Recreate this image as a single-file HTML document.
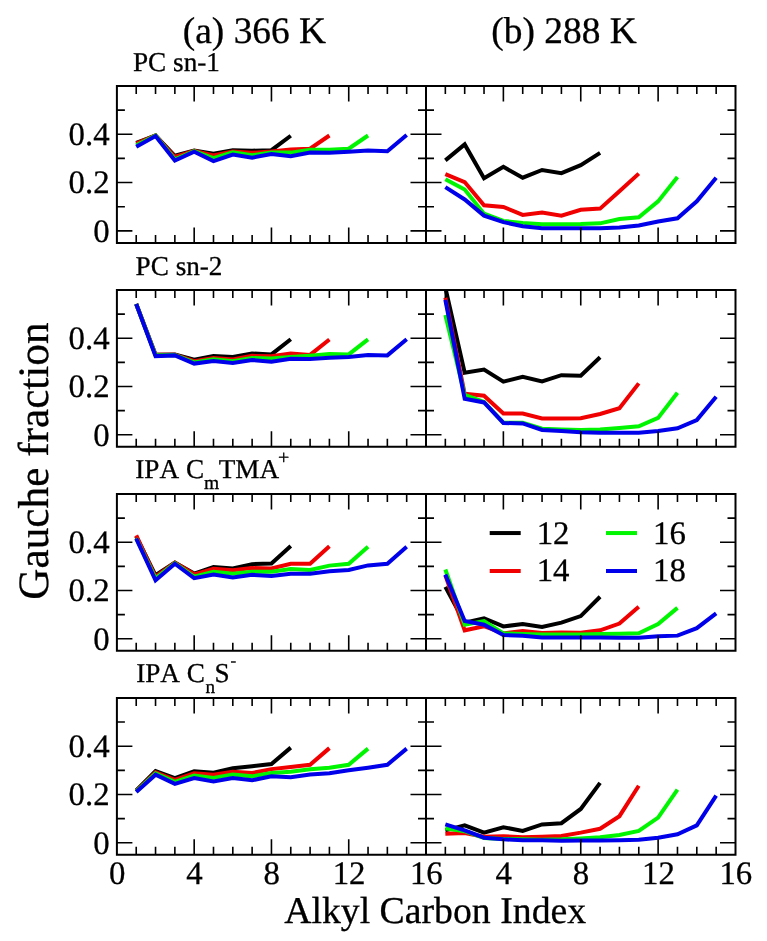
<!DOCTYPE html><html><head><meta charset="utf-8"><title>Gauche fraction</title><style>html,body{margin:0;padding:0;background:#fff;width:767px;height:941px;overflow:hidden}svg{display:block;will-change:transform}text{font-family:"Liberation Serif",serif;fill:#000;stroke:#000;stroke-width:0.3px;text-rendering:geometricPrecision;font-kerning:none;font-feature-settings:"kern" 0}</style></head><body><svg width="767" height="941" viewBox="0 0 767 941"><rect width="767" height="941" fill="#fff"/><defs><clipPath id="k00"><rect x="116.9" y="86" width="309.1" height="156.9"/></clipPath><clipPath id="k01"><rect x="426" y="86" width="309.5" height="156.9"/></clipPath><clipPath id="k10"><rect x="116.9" y="289.97" width="309.1" height="156.9"/></clipPath><clipPath id="k11"><rect x="426" y="289.97" width="309.5" height="156.9"/></clipPath><clipPath id="k20"><rect x="116.9" y="493.94" width="309.1" height="156.9"/></clipPath><clipPath id="k21"><rect x="426" y="493.94" width="309.5" height="156.9"/></clipPath><clipPath id="k30"><rect x="116.9" y="697.91" width="309.1" height="156.9"/></clipPath><clipPath id="k31"><rect x="426" y="697.91" width="309.5" height="156.9"/></clipPath></defs><g clip-path="url(#k00)"><polyline points="136.22,142.97 155.54,135.48 174.86,155.76 194.18,150.45 213.49,153.83 232.81,150.21 252.13,150.69 271.45,150.21 290.77,135.73" fill="none" stroke="#000000" stroke-width="4.0" stroke-linejoin="miter" stroke-linecap="butt"/><polyline points="136.22,143.69 155.54,135.48 174.86,156.97 194.18,150.93 213.49,155.52 232.81,151.42 252.13,152.86 271.45,151.42 290.77,149.48 310.09,148.76 329.41,135.48" fill="none" stroke="#f00000" stroke-width="4.0" stroke-linejoin="miter" stroke-linecap="butt"/><polyline points="136.22,145.38 155.54,135.48 174.86,159.38 194.18,151.17 213.49,158.17 232.81,152.38 252.13,155.28 271.45,152.38 290.77,152.62 310.09,149.73 329.41,149.73 348.73,148.76 368.04,135.48" fill="none" stroke="#00f500" stroke-width="4.0" stroke-linejoin="miter" stroke-linecap="butt"/><polyline points="136.22,146.83 155.54,135.97 174.86,160.59 194.18,151.66 213.49,161.07 232.81,154.55 252.13,157.69 271.45,154.07 290.77,156.24 310.09,152.62 329.41,152.86 348.73,151.66 368.04,150.45 387.36,151.17 406.68,135" fill="none" stroke="#0000eb" stroke-width="4.0" stroke-linejoin="miter" stroke-linecap="butt"/></g><g clip-path="url(#k01)"><polyline points="445.34,160.35 464.69,144.42 484.03,178.21 503.38,166.86 522.72,177.73 542.06,170 561.41,173.14 580.75,165.17 600.09,152.86" fill="none" stroke="#000000" stroke-width="4.0" stroke-linejoin="miter" stroke-linecap="butt"/><polyline points="445.34,174.11 464.69,182.07 484.03,205.24 503.38,206.93 522.72,214.9 542.06,212.49 561.41,215.62 580.75,209.83 600.09,208.62 619.44,191.24 638.78,173.62" fill="none" stroke="#f00000" stroke-width="4.0" stroke-linejoin="miter" stroke-linecap="butt"/><polyline points="445.34,179.17 464.69,189.55 484.03,213.69 503.38,220.93 522.72,222.87 542.06,224.31 561.41,224.31 580.75,224.07 600.09,223.35 619.44,219 638.78,217.31 658.12,201.38 677.47,177" fill="none" stroke="#00f500" stroke-width="4.0" stroke-linejoin="miter" stroke-linecap="butt"/><polyline points="445.34,187.14 464.69,199.45 484.03,215.62 503.38,222.14 522.72,226.24 542.06,228.18 561.41,228.18 580.75,228.18 600.09,228.18 619.44,227.45 638.78,225.52 658.12,221.42 677.47,218.28 696.81,201.38 716.16,177.73" fill="none" stroke="#0000eb" stroke-width="4.0" stroke-linejoin="miter" stroke-linecap="butt"/></g><g clip-path="url(#k10)"><polyline points="136.22,303.97 155.54,354.66 174.86,354.42 194.18,359.73 213.49,356.11 232.81,357.07 252.13,353.45 271.45,354.42 290.77,339.21" fill="none" stroke="#000000" stroke-width="4.0" stroke-linejoin="miter" stroke-linecap="butt"/><polyline points="136.22,303.97 155.54,354.66 174.86,354.66 194.18,361.18 213.49,358.04 232.81,359.49 252.13,355.87 271.45,356.35 290.77,353.45 310.09,354.9 329.41,339.45" fill="none" stroke="#f00000" stroke-width="4.0" stroke-linejoin="miter" stroke-linecap="butt"/><polyline points="136.22,303.97 155.54,355.14 174.86,354.9 194.18,362.39 213.49,359.25 232.81,361.18 252.13,358.04 271.45,358.52 290.77,357.07 310.09,355.63 329.41,353.94 348.73,354.42 368.04,339.45" fill="none" stroke="#00f500" stroke-width="4.0" stroke-linejoin="miter" stroke-linecap="butt"/><polyline points="136.22,303.97 155.54,356.11 174.86,355.39 194.18,363.59 213.49,360.94 232.81,362.87 252.13,359.97 271.45,361.66 290.77,358.76 310.09,359.01 329.41,357.8 348.73,357.07 368.04,354.9 387.36,355.39 406.68,339.21" fill="none" stroke="#0000eb" stroke-width="4.0" stroke-linejoin="miter" stroke-linecap="butt"/></g><g clip-path="url(#k11)"><polyline points="445.34,287.56 464.69,372.76 484.03,369.63 503.38,381.7 522.72,376.87 542.06,381.45 561.41,375.18 580.75,375.66 600.09,357.32" fill="none" stroke="#000000" stroke-width="4.0" stroke-linejoin="miter" stroke-linecap="butt"/><polyline points="445.34,297.69 464.69,393.77 484.03,395.7 503.38,413.56 522.72,413.56 542.06,418.39 561.41,418.39 580.75,418.15 600.09,414.04 619.44,408.25 638.78,383.39" fill="none" stroke="#f00000" stroke-width="4.0" stroke-linejoin="miter" stroke-linecap="butt"/><polyline points="445.34,315.07 464.69,394.97 484.03,401.97 503.38,422.73 522.72,422.73 542.06,428.77 561.41,429.49 580.75,429.97 600.09,429.49 619.44,428.04 638.78,426.35 658.12,417.9 677.47,392.8" fill="none" stroke="#00f500" stroke-width="4.0" stroke-linejoin="miter" stroke-linecap="butt"/><polyline points="445.34,299.87 464.69,398.83 484.03,402.46 503.38,422.97 522.72,423.46 542.06,429.97 561.41,430.94 580.75,432.15 600.09,432.87 619.44,432.63 638.78,432.63 658.12,430.94 677.47,428.28 696.81,420.08 716.16,396.66" fill="none" stroke="#0000eb" stroke-width="4.0" stroke-linejoin="miter" stroke-linecap="butt"/></g><g clip-path="url(#k20)"><polyline points="136.22,536.42 155.54,575.29 174.86,562.49 194.18,573.6 213.49,567.08 232.81,568.53 252.13,564.18 271.45,563.46 290.77,546.08" fill="none" stroke="#000000" stroke-width="4.0" stroke-linejoin="miter" stroke-linecap="butt"/><polyline points="136.22,535.46 155.54,576.73 174.86,562.73 194.18,574.32 213.49,568.77 232.81,570.22 252.13,568.05 271.45,568.53 290.77,563.7 310.09,563.7 329.41,546.32" fill="none" stroke="#f00000" stroke-width="4.0" stroke-linejoin="miter" stroke-linecap="butt"/><polyline points="136.22,538.35 155.54,578.42 174.86,563.22 194.18,576.73 213.49,571.67 232.81,573.84 252.13,571.67 271.45,571.67 290.77,569.01 310.09,569.98 329.41,565.63 348.73,563.7 368.04,546.8" fill="none" stroke="#00f500" stroke-width="4.0" stroke-linejoin="miter" stroke-linecap="butt"/><polyline points="136.22,538.6 155.54,580.36 174.86,563.7 194.18,578.18 213.49,574.56 232.81,577.46 252.13,574.8 271.45,576.01 290.77,573.84 310.09,573.84 329.41,571.18 348.73,569.98 368.04,565.39 387.36,563.7 406.68,546.8" fill="none" stroke="#0000eb" stroke-width="4.0" stroke-linejoin="miter" stroke-linecap="butt"/></g><g clip-path="url(#k21)"><polyline points="445.34,586.87 464.69,622.6 484.03,618.25 503.38,626.46 522.72,624.05 542.06,626.94 561.41,622.6 580.75,616.08 600.09,596.77" fill="none" stroke="#000000" stroke-width="4.0" stroke-linejoin="miter" stroke-linecap="butt"/><polyline points="445.34,575.29 464.69,630.32 484.03,626.22 503.38,633.46 522.72,631.05 542.06,632.98 561.41,632.49 580.75,632.74 600.09,630.32 619.44,623.56 638.78,606.67" fill="none" stroke="#f00000" stroke-width="4.0" stroke-linejoin="miter" stroke-linecap="butt"/><polyline points="445.34,569.49 464.69,624.77 484.03,621.15 503.38,633.46 522.72,633.94 542.06,634.43 561.41,634.43 580.75,634.43 600.09,633.94 619.44,633.7 638.78,633.22 658.12,624.05 677.47,607.87" fill="none" stroke="#00f500" stroke-width="4.0" stroke-linejoin="miter" stroke-linecap="butt"/><polyline points="445.34,574.56 464.69,620.91 484.03,624.77 503.38,634.91 522.72,635.87 542.06,637.56 561.41,637.56 580.75,637.56 600.09,637.56 619.44,637.81 638.78,637.81 658.12,636.36 677.47,635.63 696.81,628.15 716.16,613.43" fill="none" stroke="#0000eb" stroke-width="4.0" stroke-linejoin="miter" stroke-linecap="butt"/></g><g clip-path="url(#k30)"><polyline points="136.22,790.36 155.54,771.05 174.86,778.05 194.18,771.29 213.49,772.74 232.81,768.15 252.13,766.22 271.45,764.05 290.77,747.64" fill="none" stroke="#000000" stroke-width="4.0" stroke-linejoin="miter" stroke-linecap="butt"/><polyline points="136.22,791.08 155.54,772.26 174.86,779.98 194.18,773.22 213.49,774.67 232.81,771.77 252.13,772.98 271.45,769.12 290.77,766.95 310.09,764.77 329.41,748.12" fill="none" stroke="#f00000" stroke-width="4.0" stroke-linejoin="miter" stroke-linecap="butt"/><polyline points="136.22,791.57 155.54,773.46 174.86,781.91 194.18,775.64 213.49,778.05 232.81,774.43 252.13,776.36 271.45,772.98 290.77,771.77 310.09,769.36 329.41,767.67 348.73,764.77 368.04,748.6" fill="none" stroke="#00f500" stroke-width="4.0" stroke-linejoin="miter" stroke-linecap="butt"/><polyline points="136.22,792.05 155.54,774.67 174.86,783.84 194.18,778.05 213.49,781.43 232.81,778.05 252.13,780.22 271.45,776.36 290.77,777.33 310.09,774.43 329.41,773.22 348.73,770.33 368.04,767.67 387.36,764.77 406.68,748.6" fill="none" stroke="#0000eb" stroke-width="4.0" stroke-linejoin="miter" stroke-linecap="butt"/></g><g clip-path="url(#k31)"><polyline points="445.34,830.43 464.69,825.36 484.03,832.6 503.38,827.29 522.72,830.91 542.06,824.4 561.41,823.19 580.75,808.95 600.09,782.88" fill="none" stroke="#000000" stroke-width="4.0" stroke-linejoin="miter" stroke-linecap="butt"/><polyline points="445.34,833.81 464.69,833.09 484.03,836.71 503.38,836.22 522.72,837.19 542.06,836.71 561.41,835.98 580.75,832.6 600.09,828.74 619.44,816.19 638.78,785.77" fill="none" stroke="#f00000" stroke-width="4.0" stroke-linejoin="miter" stroke-linecap="butt"/><polyline points="445.34,828.26 464.69,831.15 484.03,837.91 503.38,838.88 522.72,839.36 542.06,839.84 561.41,839.36 580.75,838.4 600.09,837.19 619.44,835.02 638.78,830.91 658.12,817.64 677.47,789.64" fill="none" stroke="#00f500" stroke-width="4.0" stroke-linejoin="miter" stroke-linecap="butt"/><polyline points="445.34,824.4 464.69,830.43 484.03,837.67 503.38,839.36 522.72,840.33 542.06,840.33 561.41,840.81 580.75,840.57 600.09,840.57 619.44,840.33 638.78,839.84 658.12,837.67 677.47,834.29 696.81,825.36 716.16,795.67" fill="none" stroke="#0000eb" stroke-width="4.0" stroke-linejoin="miter" stroke-linecap="butt"/></g><path d="M136.22 242.9v-8M136.22 86v8M155.54 242.9v-8M155.54 86v8M174.86 242.9v-8M174.86 86v8M194.18 242.9v-15.5M194.18 86v15.5M213.49 242.9v-8M213.49 86v8M232.81 242.9v-8M232.81 86v8M252.13 242.9v-8M252.13 86v8M271.45 242.9v-15.5M271.45 86v15.5M290.77 242.9v-8M290.77 86v8M310.09 242.9v-8M310.09 86v8M329.41 242.9v-8M329.41 86v8M348.73 242.9v-15.5M348.73 86v15.5M368.04 242.9v-8M368.04 86v8M387.36 242.9v-8M387.36 86v8M406.68 242.9v-8M406.68 86v8M116.9 230.83h15.5M426 230.83h-15.5M116.9 206.69h8M426 206.69h-8M116.9 182.55h15.5M426 182.55h-15.5M116.9 158.42h8M426 158.42h-8M116.9 134.28h15.5M426 134.28h-15.5M116.9 110.14h8M426 110.14h-8M116.9 86h15.5M426 86h-15.5M445.34 242.9v-8M445.34 86v8M464.69 242.9v-8M464.69 86v8M484.03 242.9v-8M484.03 86v8M503.38 242.9v-15.5M503.38 86v15.5M522.72 242.9v-8M522.72 86v8M542.06 242.9v-8M542.06 86v8M561.41 242.9v-8M561.41 86v8M580.75 242.9v-15.5M580.75 86v15.5M600.09 242.9v-8M600.09 86v8M619.44 242.9v-8M619.44 86v8M638.78 242.9v-8M638.78 86v8M658.12 242.9v-15.5M658.12 86v15.5M677.47 242.9v-8M677.47 86v8M696.81 242.9v-8M696.81 86v8M716.16 242.9v-8M716.16 86v8M426 230.83h15.5M735.5 230.83h-15.5M426 206.69h8M735.5 206.69h-8M426 182.55h15.5M735.5 182.55h-15.5M426 158.42h8M735.5 158.42h-8M426 134.28h15.5M735.5 134.28h-15.5M426 110.14h8M735.5 110.14h-8M426 86h15.5M735.5 86h-15.5M136.22 446.87v-8M136.22 289.97v8M155.54 446.87v-8M155.54 289.97v8M174.86 446.87v-8M174.86 289.97v8M194.18 446.87v-15.5M194.18 289.97v15.5M213.49 446.87v-8M213.49 289.97v8M232.81 446.87v-8M232.81 289.97v8M252.13 446.87v-8M252.13 289.97v8M271.45 446.87v-15.5M271.45 289.97v15.5M290.77 446.87v-8M290.77 289.97v8M310.09 446.87v-8M310.09 289.97v8M329.41 446.87v-8M329.41 289.97v8M348.73 446.87v-15.5M348.73 289.97v15.5M368.04 446.87v-8M368.04 289.97v8M387.36 446.87v-8M387.36 289.97v8M406.68 446.87v-8M406.68 289.97v8M116.9 434.8h15.5M426 434.8h-15.5M116.9 410.66h8M426 410.66h-8M116.9 386.52h15.5M426 386.52h-15.5M116.9 362.39h8M426 362.39h-8M116.9 338.25h15.5M426 338.25h-15.5M116.9 314.11h8M426 314.11h-8M116.9 289.97h15.5M426 289.97h-15.5M445.34 446.87v-8M445.34 289.97v8M464.69 446.87v-8M464.69 289.97v8M484.03 446.87v-8M484.03 289.97v8M503.38 446.87v-15.5M503.38 289.97v15.5M522.72 446.87v-8M522.72 289.97v8M542.06 446.87v-8M542.06 289.97v8M561.41 446.87v-8M561.41 289.97v8M580.75 446.87v-15.5M580.75 289.97v15.5M600.09 446.87v-8M600.09 289.97v8M619.44 446.87v-8M619.44 289.97v8M638.78 446.87v-8M638.78 289.97v8M658.12 446.87v-15.5M658.12 289.97v15.5M677.47 446.87v-8M677.47 289.97v8M696.81 446.87v-8M696.81 289.97v8M716.16 446.87v-8M716.16 289.97v8M426 434.8h15.5M735.5 434.8h-15.5M426 410.66h8M735.5 410.66h-8M426 386.52h15.5M735.5 386.52h-15.5M426 362.39h8M735.5 362.39h-8M426 338.25h15.5M735.5 338.25h-15.5M426 314.11h8M735.5 314.11h-8M426 289.97h15.5M735.5 289.97h-15.5M136.22 650.84v-8M136.22 493.94v8M155.54 650.84v-8M155.54 493.94v8M174.86 650.84v-8M174.86 493.94v8M194.18 650.84v-15.5M194.18 493.94v15.5M213.49 650.84v-8M213.49 493.94v8M232.81 650.84v-8M232.81 493.94v8M252.13 650.84v-8M252.13 493.94v8M271.45 650.84v-15.5M271.45 493.94v15.5M290.77 650.84v-8M290.77 493.94v8M310.09 650.84v-8M310.09 493.94v8M329.41 650.84v-8M329.41 493.94v8M348.73 650.84v-15.5M348.73 493.94v15.5M368.04 650.84v-8M368.04 493.94v8M387.36 650.84v-8M387.36 493.94v8M406.68 650.84v-8M406.68 493.94v8M116.9 638.77h15.5M426 638.77h-15.5M116.9 614.63h8M426 614.63h-8M116.9 590.49h15.5M426 590.49h-15.5M116.9 566.36h8M426 566.36h-8M116.9 542.22h15.5M426 542.22h-15.5M116.9 518.08h8M426 518.08h-8M116.9 493.94h15.5M426 493.94h-15.5M445.34 650.84v-8M445.34 493.94v8M464.69 650.84v-8M464.69 493.94v8M484.03 650.84v-8M484.03 493.94v8M503.38 650.84v-15.5M503.38 493.94v15.5M522.72 650.84v-8M522.72 493.94v8M542.06 650.84v-8M542.06 493.94v8M561.41 650.84v-8M561.41 493.94v8M580.75 650.84v-15.5M580.75 493.94v15.5M600.09 650.84v-8M600.09 493.94v8M619.44 650.84v-8M619.44 493.94v8M638.78 650.84v-8M638.78 493.94v8M658.12 650.84v-15.5M658.12 493.94v15.5M677.47 650.84v-8M677.47 493.94v8M696.81 650.84v-8M696.81 493.94v8M716.16 650.84v-8M716.16 493.94v8M426 638.77h15.5M735.5 638.77h-15.5M426 614.63h8M735.5 614.63h-8M426 590.49h15.5M735.5 590.49h-15.5M426 566.36h8M735.5 566.36h-8M426 542.22h15.5M735.5 542.22h-15.5M426 518.08h8M735.5 518.08h-8M426 493.94h15.5M735.5 493.94h-15.5M136.22 854.81v-8M136.22 697.91v8M155.54 854.81v-8M155.54 697.91v8M174.86 854.81v-8M174.86 697.91v8M194.18 854.81v-15.5M194.18 697.91v15.5M213.49 854.81v-8M213.49 697.91v8M232.81 854.81v-8M232.81 697.91v8M252.13 854.81v-8M252.13 697.91v8M271.45 854.81v-15.5M271.45 697.91v15.5M290.77 854.81v-8M290.77 697.91v8M310.09 854.81v-8M310.09 697.91v8M329.41 854.81v-8M329.41 697.91v8M348.73 854.81v-15.5M348.73 697.91v15.5M368.04 854.81v-8M368.04 697.91v8M387.36 854.81v-8M387.36 697.91v8M406.68 854.81v-8M406.68 697.91v8M116.9 842.74h15.5M426 842.74h-15.5M116.9 818.6h8M426 818.6h-8M116.9 794.46h15.5M426 794.46h-15.5M116.9 770.33h8M426 770.33h-8M116.9 746.19h15.5M426 746.19h-15.5M116.9 722.05h8M426 722.05h-8M116.9 697.91h15.5M426 697.91h-15.5M445.34 854.81v-8M445.34 697.91v8M464.69 854.81v-8M464.69 697.91v8M484.03 854.81v-8M484.03 697.91v8M503.38 854.81v-15.5M503.38 697.91v15.5M522.72 854.81v-8M522.72 697.91v8M542.06 854.81v-8M542.06 697.91v8M561.41 854.81v-8M561.41 697.91v8M580.75 854.81v-15.5M580.75 697.91v15.5M600.09 854.81v-8M600.09 697.91v8M619.44 854.81v-8M619.44 697.91v8M638.78 854.81v-8M638.78 697.91v8M658.12 854.81v-15.5M658.12 697.91v15.5M677.47 854.81v-8M677.47 697.91v8M696.81 854.81v-8M696.81 697.91v8M716.16 854.81v-8M716.16 697.91v8M426 842.74h15.5M735.5 842.74h-15.5M426 818.6h8M735.5 818.6h-8M426 794.46h15.5M735.5 794.46h-15.5M426 770.33h8M735.5 770.33h-8M426 746.19h15.5M735.5 746.19h-15.5M426 722.05h8M735.5 722.05h-8M426 697.91h15.5M735.5 697.91h-15.5" stroke="#000" stroke-width="1.6" fill="none"/><path d="M116.9 86H735.5V242.9H116.9ZM426 86V242.9M116.9 289.97H735.5V446.87H116.9ZM426 289.97V446.87M116.9 493.94H735.5V650.84H116.9ZM426 493.94V650.84M116.9 697.91H735.5V854.81H116.9ZM426 697.91V854.81" stroke="#000" stroke-width="2.0" fill="none" stroke-linejoin="miter"/><text x="109.6" y="241.63" font-size="32.8" text-anchor="end">0</text><text x="109.6" y="193.35" font-size="32.8" text-anchor="end">0.2</text><text x="109.6" y="145.08" font-size="32.8" text-anchor="end">0.4</text><text x="109.6" y="445.6" font-size="32.8" text-anchor="end">0</text><text x="109.6" y="397.32" font-size="32.8" text-anchor="end">0.2</text><text x="109.6" y="349.05" font-size="32.8" text-anchor="end">0.4</text><text x="109.6" y="649.57" font-size="32.8" text-anchor="end">0</text><text x="109.6" y="601.29" font-size="32.8" text-anchor="end">0.2</text><text x="109.6" y="553.02" font-size="32.8" text-anchor="end">0.4</text><text x="109.6" y="853.54" font-size="32.8" text-anchor="end">0</text><text x="109.6" y="805.26" font-size="32.8" text-anchor="end">0.2</text><text x="109.6" y="756.99" font-size="32.8" text-anchor="end">0.4</text><text x="117.2" y="884" font-size="32.8" text-anchor="middle">0</text><text x="194.48" y="884" font-size="32.8" text-anchor="middle">4</text><text x="271.75" y="884" font-size="32.8" text-anchor="middle">8</text><text x="349.03" y="884" font-size="32.8" text-anchor="middle">12</text><text x="426.3" y="884" font-size="32.8" text-anchor="middle">16</text><text x="503.68" y="884" font-size="32.8" text-anchor="middle">4</text><text x="581.05" y="884" font-size="32.8" text-anchor="middle">8</text><text x="658.42" y="884" font-size="32.8" text-anchor="middle">12</text><text x="735.8" y="884" font-size="32.8" text-anchor="middle">16</text><text x="182.8" y="42.5" font-size="37.4">(a) 366 K</text><text x="491.3" y="42.5" font-size="37.4">(b) 288 K</text><text x="133" y="70.5" font-size="27.2">PC sn-1</text><text x="135.6" y="274.5" font-size="27.2">PC sn-2</text><text x="135.3" y="478.4" font-size="27.2">IPA C</text><text x="203.9" y="489.3" font-size="19.5">m</text><text x="218.7" y="478.4" font-size="27.2">TMA</text><text x="278" y="464.3" font-size="20">+</text><text x="136.2" y="682.2" font-size="27.2">IPA C</text><text x="205.4" y="692.6" font-size="19.2">n</text><text x="214.5" y="682.2" font-size="27.2">S</text><text x="230.6" y="665.7" font-size="17">-</text><text x="284.2" y="922.6" font-size="37.76">Alkyl Carbon Index</text><text transform="translate(47.8,599.75) rotate(-90)" x="0" y="0" font-size="43.25">Gauche fraction</text><line x1="489.7" y1="533.05" x2="520.7" y2="533.05" stroke="#000000" stroke-width="4.0"/><text x="536.7" y="544.2" font-size="32.8">12</text><line x1="489.7" y1="571" x2="520.7" y2="571" stroke="#f00000" stroke-width="4.0"/><text x="536.7" y="581.4" font-size="32.8">14</text><line x1="606" y1="533.05" x2="637" y2="533.05" stroke="#00f500" stroke-width="4.0"/><text x="653" y="544.2" font-size="32.8">16</text><line x1="606" y1="571" x2="637" y2="571" stroke="#0000eb" stroke-width="4.0"/><text x="653" y="581.4" font-size="32.8">18</text></svg></body></html>
